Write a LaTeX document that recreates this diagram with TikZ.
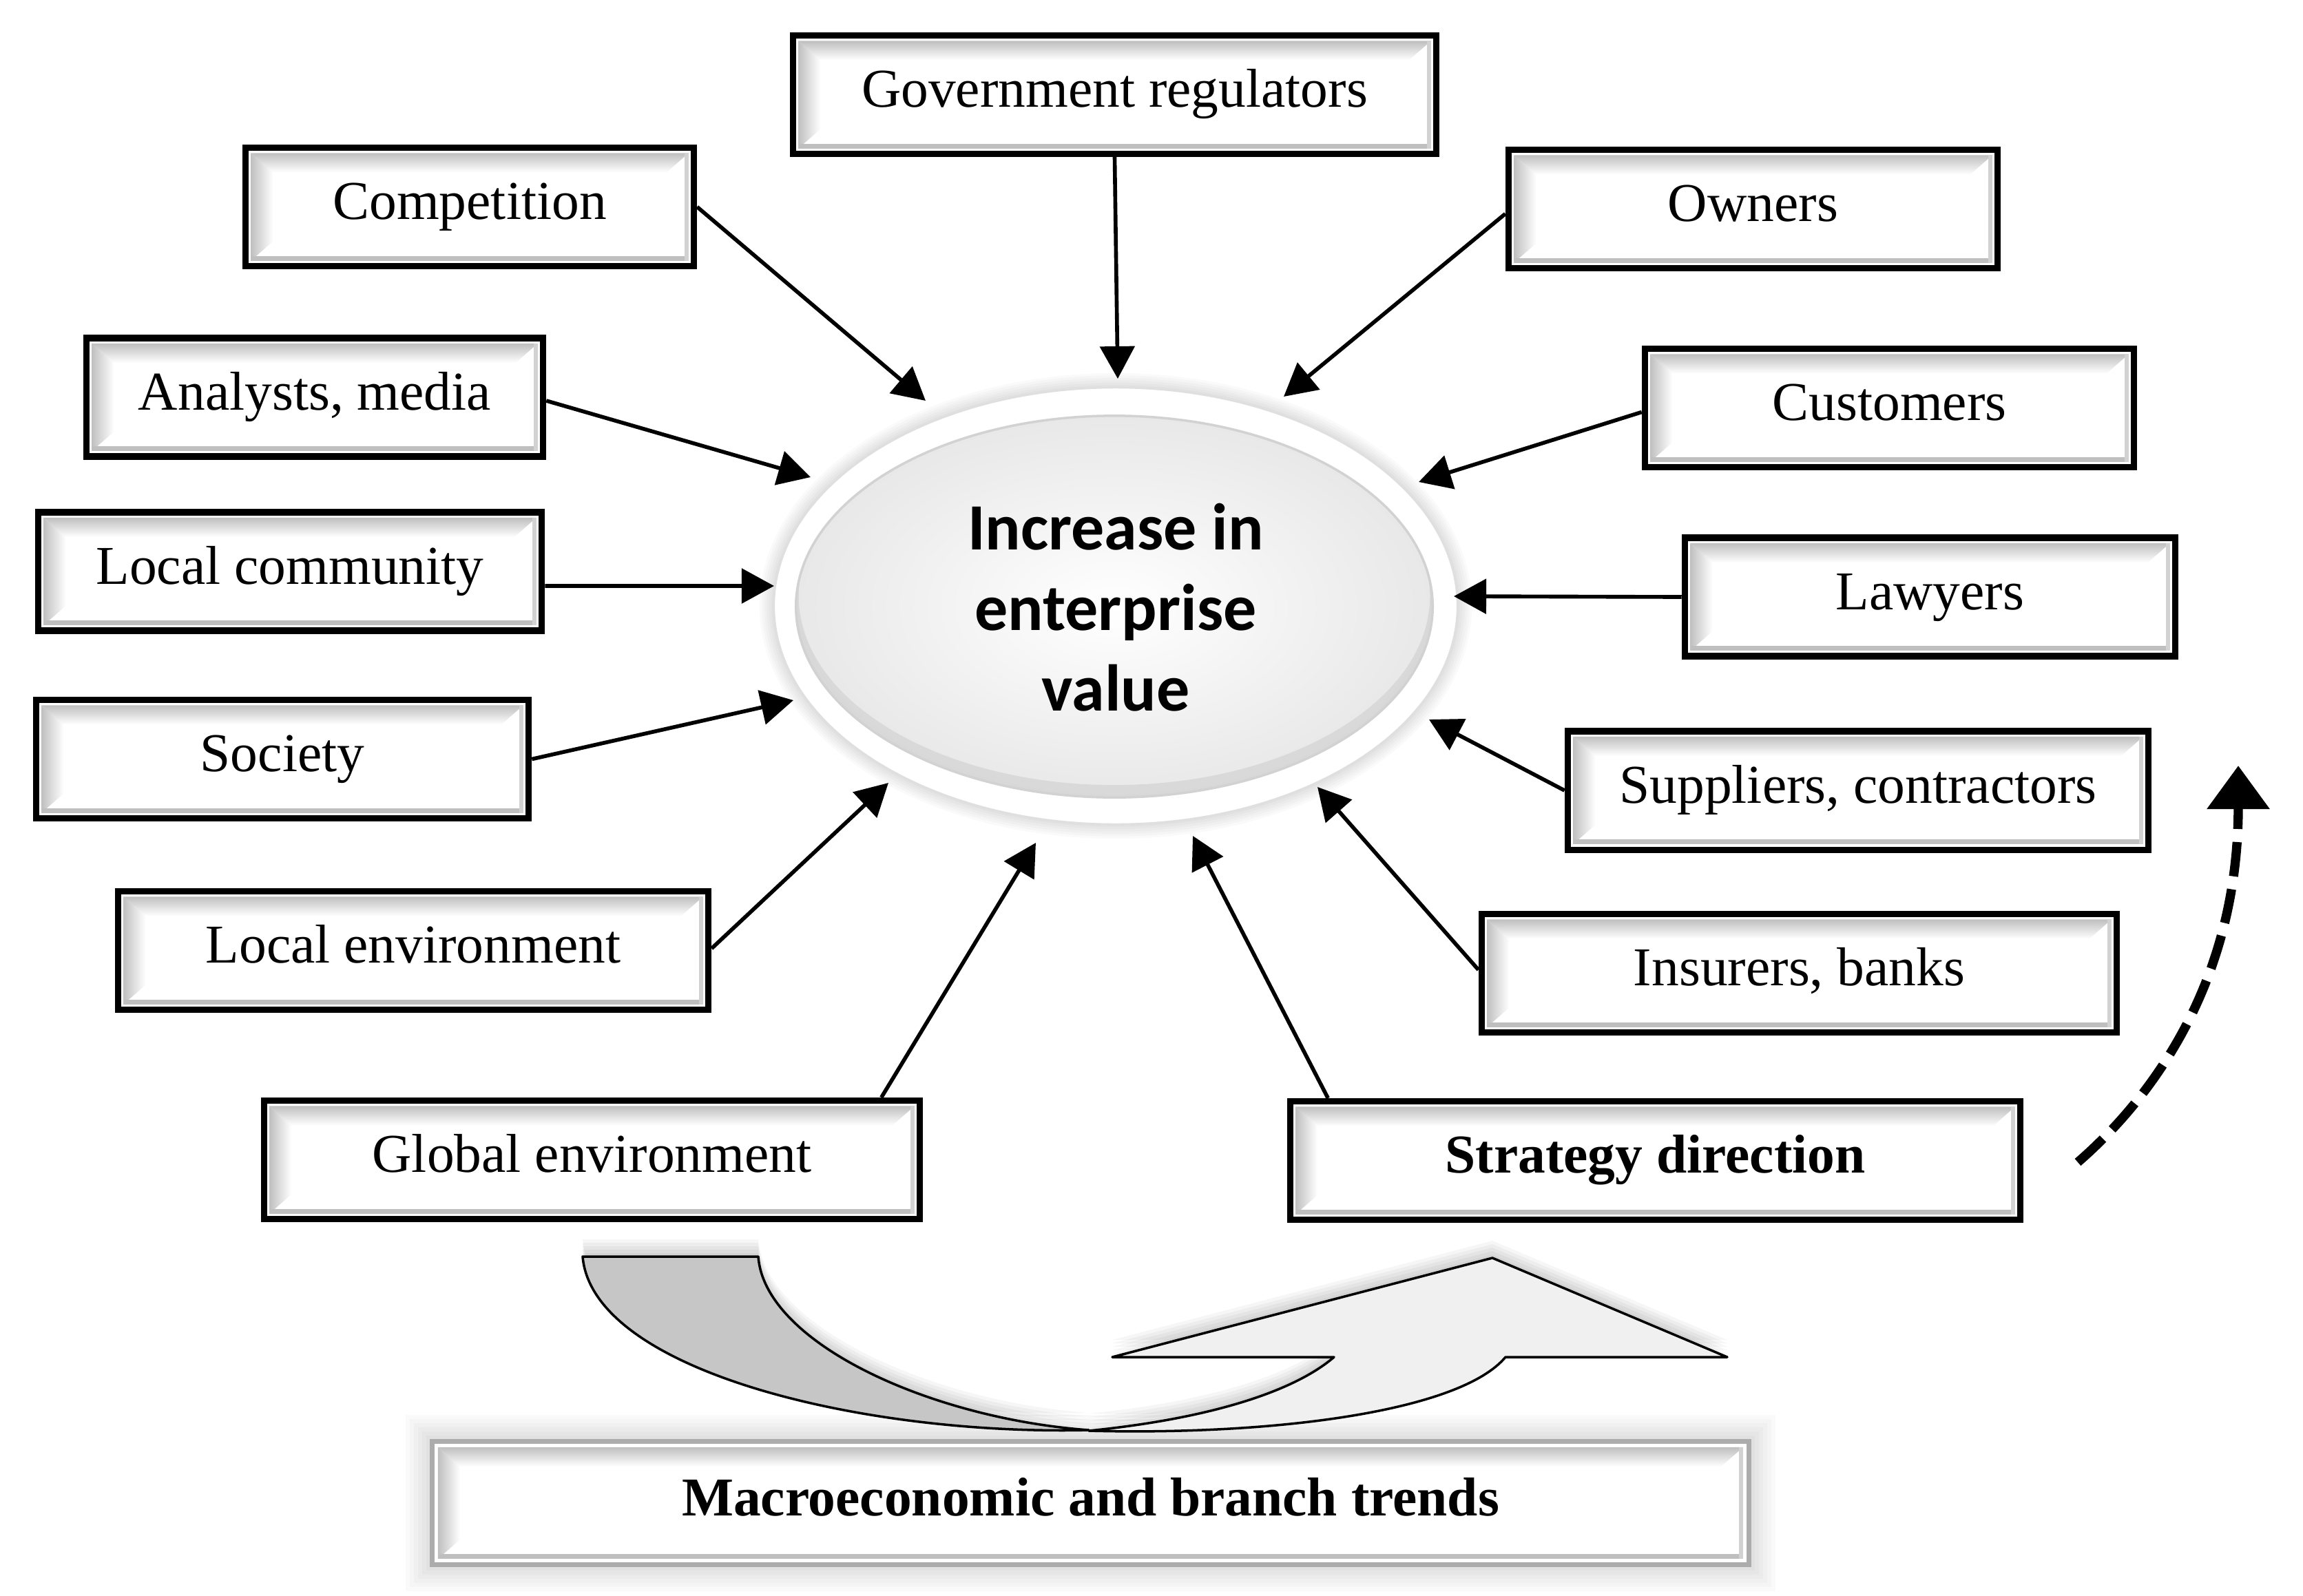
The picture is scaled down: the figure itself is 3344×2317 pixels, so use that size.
\documentclass[tikz,border=0pt]{standalone}
\usepackage{fontspec}
\setmainfont{Liberation Serif}
\newfontfamily\carlito{Carlito}
\usetikzlibrary{arrows.meta,shapes.geometric}

\tikzset{
  bevel/.style={path picture={
    \path (path picture bounding box.north west) coordinate (bnw)
          (path picture bounding box.north east) coordinate (bne)
          (path picture bounding box.south west) coordinate (bsw)
          (path picture bounding box.south east) coordinate (bse);
    \shade[top color=gray!50, bottom color=white]
      ([shift={(0.08cm,-0.08cm)}]bnw) -- ([shift={(-0.08cm,-0.08cm)}]bne) --
      ([shift={(-0.40cm,-0.36cm)}]bne) -- ([shift={(0.40cm,-0.36cm)}]bnw) -- cycle;
    \shade[left color=gray!50, right color=white]
      ([shift={(0.08cm,-0.08cm)}]bnw) -- ([shift={(0.40cm,-0.36cm)}]bnw) --
      ([shift={(0.40cm,0.36cm)}]bsw) -- ([shift={(0.08cm,0.08cm)}]bsw) -- cycle;
    \fill[gray!50] ([shift={(0.08cm,0.08cm)}]bsw) rectangle ([shift={(-0.08cm,0.15cm)}]bse);
    \fill[gray!35] ([shift={(-0.08cm,0.08cm)}]bse) rectangle ([shift={(-0.14cm,-0.08cm)}]bne);
  }},
  fbox/.style={bevel, draw=black, line width=2.6pt, fill=white, inner sep=0pt,
    minimum height=1.72cm, text height=15.4pt, text depth=5pt,
    font=\fontsize{22.6}{27}\selectfont},
  arr/.style={line width=1.6pt, -{Triangle[length=0.47cm,width=0.5cm]}},
  ribbon/.style={draw=black, line width=1pt, line join=round},
}

\begin{document}
\begin{tikzpicture}[x=0.01cm, y=-0.01cm]
\useasboundingbox (0,0) rectangle (3344,2317);
\fill[white] (0,0) rectangle (3344,2317);

% ---------- central ellipse ----------
\foreach \r in {1,...,6}
  \fill[black, opacity=0.02] (1620,880) ellipse ({4.96cm+\r*0.035cm} and {3.17cm+\r*0.035cm});
\filldraw[fill=white, draw=gray!25, line width=0.8pt] (1620,880) ellipse (4.96cm and 3.17cm);
\shade[inner color=white, outer color=gray!18] (1618,881) ellipse (4.62cm and 2.77cm);
\begin{scope}
  \clip (1618,881) ellipse (4.62cm and 2.77cm);
  \fill[gray!40, opacity=0.55, even odd rule] (1618,881) ellipse (4.62cm and 2.77cm)
       (1618,866) ellipse (4.58cm and 2.74cm);
\end{scope}
\draw[gray!35, line width=1pt] (1618,881) ellipse (4.62cm and 2.77cm);
\node[align=center, font=\carlito\bfseries\fontsize{27.3}{33.3}\selectfont] (core) at (1620,882)
  {Increase in\\enterprise\\value};

% ---------- boxes ----------
\node[fbox, minimum width=9.34cm] (gov)  at (1618.5,137.5) {Government regulators};
\node[fbox, minimum width=6.51cm] (comp) at (682,300.5)    {Competition};
\node[fbox, minimum width=7.10cm] (own)  at (2545.5,303.5) {Owners};
\node[fbox, minimum width=6.63cm] (ana)  at (457,577)      {Analysts, media};
\node[fbox, minimum width=7.10cm] (cus)  at (2743.5,592.5) {Customers};
\node[fbox, minimum width=7.31cm] (lc)   at (421,830)      {Local community};
\node[fbox, minimum width=7.12cm] (law)  at (2802.5,867)   {Lawyers};
\node[fbox, minimum width=7.15cm] (soc)  at (410,1102.5)   {Society};
\node[fbox, minimum width=8.43cm] (sup)  at (2698,1148)    {Suppliers, contractors};
\node[fbox, minimum width=8.57cm] (le)   at (600,1380.5)   {Local environment};
\node[fbox, minimum width=9.22cm] (ins)  at (2612.5,1413.5){Insurers, banks};
\node[fbox, minimum width=9.52cm] (glob) at (859.5,1684.5) {Global environment};
\node[fbox, minimum width=10.60cm, font=\fontsize{22.6}{27}\selectfont\bfseries] (strat) at (2403.5,1685.5) {Strategy direction};

% ---------- arrow tips ----------
\coordinate (tcomp)  at (1344,582);
\coordinate (tgov)   at (1623,550);
\coordinate (town)   at (1864,576);
\coordinate (tana)   at (1177,693);
\coordinate (tcus)   at (2060,700);
\coordinate (tlc)    at (1124,851);
\coordinate (tlaw)   at (2111,866);
\coordinate (tsoc)   at (1152,1017);
\coordinate (tsup)   at (2075,1045);
\coordinate (tle)    at (1290,1137);
\coordinate (tins)   at (1913,1143);
\coordinate (tglob)  at (1504,1224);
\coordinate (tstrat) at (1732,1214);

\draw[arr] (comp.east) -- (tcomp);
\draw[arr] (gov.south) -- (tgov);
\draw[arr] ([yshift=-0.07cm]own.west) -- (town);
\draw[arr] ([yshift=-0.05cm]ana.east) -- (tana);
\draw[arr] ([yshift=-0.06cm]cus.west) -- (tcus);
\draw[arr] ([yshift=-0.21cm]lc.east) -- (tlc);
\draw[arr] (law.west) -- (tlaw);
\draw[arr] (soc.east) -- (tsoc);
\draw[arr] (sup.west) -- (tsup);
\draw[arr] ([yshift=0.03cm]le.east) -- (tle);
\draw[arr] ([yshift=0.05cm]ins.west) -- (tins);
\draw[arr] ([xshift=4.2cm]glob.north) -- (tglob);
\draw[arr] ([xshift=-4.75cm]strat.north) -- (tstrat);

% ---------- dashed curved arrow ----------
\coordinate (dsA) at (3017,1688);
\coordinate (dsB) at (3250,1112);
\draw[line width=3.8pt, dash pattern=on 0.5cm off 0.19cm, -{Triangle[length=0.63cm,width=0.88cm]}]
  (dsA) .. controls (3130,1590) and (3250,1420) .. (dsB);

% ---------- macro box with soft shadow ----------
\foreach \s in {1,...,6}
  \fill[black, opacity=0.02] ({625-\s*6},{2091-\s*6}) rectangle ({2542+\s*6},{2275+\s*6});
\node[fbox, draw=gray!65, line width=2pt, minimum width=19.1cm, minimum height=1.78cm,
      font=\fontsize{22.6}{27}\selectfont\bfseries] (macro) at (1583.5,2183) {Macroeconomic and branch trends};

% ---------- big curved ribbon arrow ----------
\foreach \s in {5,10,15,20,25}{
  \begin{scope}[shift={(0,-\s)}]
    \fill[black, opacity=0.035] (846,1825) -- (1101,1825) .. controls (1110,1950) and (1350,2060) .. (1581,2077)
      .. controls (1250,2085) and (860,1990) .. (846,1825) -- cycle;
    \fill[black, opacity=0.035] (1581,2078) .. controls (1760,2060) and (1880,2020) .. (1937,1971)
      -- (1615,1971) -- (2167,1827) -- (2508,1971) -- (2186,1971)
      .. controls (2120,2050) and (1850,2085) .. (1581,2078) -- cycle;
  \end{scope}}
\filldraw[ribbon, fill=gray!45] (846,1825) -- (1101,1825) .. controls (1110,1950) and (1350,2060) .. (1581,2077)
  .. controls (1250,2085) and (860,1990) .. (846,1825) -- cycle;
\filldraw[ribbon, fill=gray!12] (1581,2078) .. controls (1760,2060) and (1880,2020) .. (1937,1971)
  -- (1615,1971) -- (2167,1827) -- (2508,1971) -- (2186,1971)
  .. controls (2120,2050) and (1850,2085) .. (1581,2078) -- cycle;
\end{tikzpicture}
\end{document}
